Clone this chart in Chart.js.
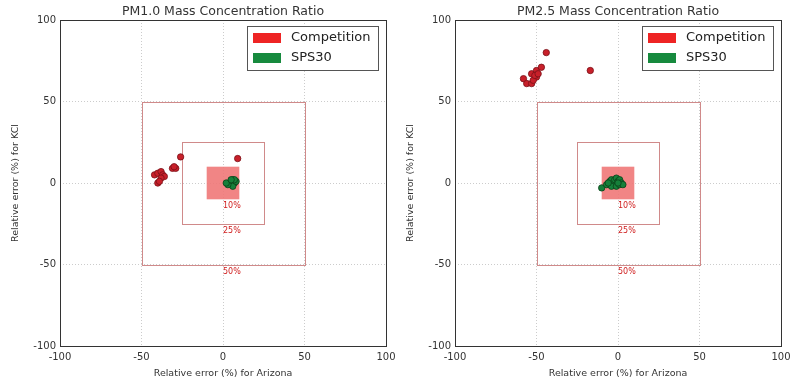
<!DOCTYPE html>
<html>
<head>
<meta charset="utf-8">
<script src="https://cdn.jsdelivr.net/npm/chart.js@4.4.0/dist/chart.umd.min.js"></script>
<style>
  body { margin: 0; background: #fff; }
  .wrap { position: absolute; top: 0; width: 395px; height: 384px; }
</style>
</head>
<body>
<div class="wrap" style="left:0"><canvas id="pm1"></canvas></div>
<div class="wrap" style="left:395px"><canvas id="pm25"></canvas></div>
<script>
// axis ticks and tolerance boxes (%)
var tickValues = [-100, -50, 0, 50, 100];
var boxLimits = [10, 25, 50];
var seriesNames = ["Competition", "SPS30"];

// PM1.0: relative error for Arizona (x) and KCl (y)
var pm1CompX = [-42, -40, -38, -37, -36, -38, -40, -39, -31, -29, -30, -26, 9];
var pm1CompY = [5, 6, 7, 5, 4, 3, 0, 1, 9, 9, 10, 16, 15];
var pm1SpsX = [4, 5, 6, 7, 5, 6, 8, 3, 7, 2, 5];
var pm1SpsY = [0, 1, 2, 0, -1, -2, 1, -1, 2, 0, 2];

// PM2.5
var pm25CompX = [-44, -17, -58, -56, -53, -53, -50, -50, -47, -52, -51, -49];
var pm25CompY = [80, 69, 64, 61, 61, 67, 69, 65, 71, 63, 66, 67];
var pm25SpsX = [-10, -7, -5, -4, -3, -2, -1, 0, 1, 2, -4, -1, 1, 3, -6, 0];
var pm25SpsY = [-3, -1, 1, 2, -1, 2, 3, 1, 2, 0, -2, -2, -1, -1, 0, 0];

function toPoints(xs, ys) {
  return xs.map(function (x, i) { return { x: x, y: ys[i] }; });
}

var boxPlugin = {
  id: 'boxes',
  beforeDatasetsDraw: function (chart) {
    var ctx = chart.ctx, sx = chart.scales.x, sy = chart.scales.y;
    ctx.save();
    boxLimits.forEach(function (b, i) {
      var l = sx.getPixelForValue(-b), r = sx.getPixelForValue(b);
      var t = sy.getPixelForValue(b), btm = sy.getPixelForValue(-b);
      if (i === 0) {
        ctx.fillStyle = 'rgba(240,120,120,0.9)';
        ctx.fillRect(l, t, r - l, btm - t);
      } else {
        ctx.strokeStyle = '#d08a8a';
        ctx.lineWidth = 1;
        ctx.strokeRect(Math.round(l) + 0.5, Math.round(t) + 0.5, Math.round(r - l), Math.round(btm - t));
      }
      ctx.fillStyle = '#d02020';
      ctx.font = '8px "DejaVu Sans"';
      ctx.textAlign = 'left';
      ctx.textBaseline = 'top';
      ctx.fillText(b + '%', sx.getPixelForValue(0), btm + 3);
    });
    ctx.restore();
  },
  afterDraw: function (chart) {
    var ctx = chart.ctx, a = chart.chartArea;
    ctx.save();
    ctx.strokeStyle = '#333';
    ctx.lineWidth = 1;
    ctx.strokeRect(Math.round(a.left) + 0.5, Math.round(a.top) + 0.5, Math.round(a.right - a.left), Math.round(a.bottom - a.top));
    // legend
    var lx = a.right - 139, ly = a.top + 6, lw = 131, lh = 44;
    ctx.fillStyle = '#fff';
    ctx.fillRect(lx, ly, lw, lh);
    ctx.strokeStyle = '#555';
    ctx.strokeRect(lx + 0.5, ly + 0.5, lw, lh);
    var swatch = ['#ee2424', '#178a3e'];
    ctx.font = '13px "DejaVu Sans"';
    ctx.textBaseline = 'middle';
    ctx.textAlign = 'left';
    chart.data.datasets.forEach(function (ds, i) {
      var yy = ly + 12 + i * 20;
      ctx.fillStyle = swatch[i];
      ctx.fillRect(lx + 6, yy - 5, 28, 10);
      ctx.fillStyle = '#222';
      ctx.fillText(ds.label, lx + 44, yy);
    });
    ctx.restore();
  }
};

function makeChart(id, title, compX, compY, spsX, spsY) {
  var axisFont = { family: 'DejaVu Sans', size: 10 };
  new Chart(document.getElementById(id), {
    type: 'scatter',
    data: {
      datasets: [
        {
          label: seriesNames[0],
          data: toPoints(compX, compY),
          backgroundColor: '#c8202a',
          borderColor: '#7a1018',
          borderWidth: 0.8,
          pointRadius: 3.2
        },
        {
          label: seriesNames[1],
          data: toPoints(spsX, spsY),
          backgroundColor: '#15803a',
          borderColor: '#0a4018',
          borderWidth: 0.8,
          pointRadius: 3.2
        }
      ]
    },
    options: {
      responsive: false,
      animation: false,
      layout: { padding: { left: 0, right: 9, top: 0, bottom: 0 } },
      plugins: {
        legend: { display: false },
        tooltip: { enabled: false },
        title: {
          display: true,
          fullSize: false,
          text: title,
          color: '#333',
          font: { family: 'DejaVu Sans', size: 12.5, weight: 'normal' },
          padding: { top: 4, bottom: 1 }
        }
      },
      scales: {
        x: {
          type: 'linear',
          min: -100, max: 100,
          afterBuildTicks: function (s) { s.ticks = tickValues.map(function (v) { return { value: v }; }); },
          afterFit: function (s) { s.height = 38; s.paddingLeft = 0; s.paddingRight = 0; },
          ticks: { color: '#333', font: axisFont, padding: 5, maxRotation: 0 },
          grid: { color: '#cccccc', lineWidth: 1, drawTicks: false },
          border: { display: false, dash: [1, 2] },
          title: { display: true, text: 'Relative error (%) for Arizona', color: '#333', font: { family: 'DejaVu Sans', size: 9.5 }, padding: { top: 0, bottom: 5 } }
        },
        y: {
          type: 'linear',
          min: -100, max: 100,
          afterBuildTicks: function (s) { s.ticks = tickValues.map(function (v) { return { value: v }; }); },
          afterFit: function (s) { s.width = 60; s.paddingTop = 0; s.paddingBottom = 0; },
          ticks: { color: '#333', font: axisFont, padding: 4 },
          grid: { color: '#cccccc', lineWidth: 1, drawTicks: false },
          border: { display: false, dash: [1, 2] },
          title: { display: true, text: 'Relative error (%) for KCl', color: '#333', font: { family: 'DejaVu Sans', size: 9.5 }, padding: { top: 10, bottom: 0 } }
        }
      }
    },
    plugins: [boxPlugin]
  });
}

document.getElementById('pm1').width = 395;
document.getElementById('pm1').height = 384;
document.getElementById('pm25').width = 395;
document.getElementById('pm25').height = 384;
makeChart('pm1', 'PM1.0 Mass Concentration Ratio', pm1CompX, pm1CompY, pm1SpsX, pm1SpsY);
makeChart('pm25', 'PM2.5 Mass Concentration Ratio', pm25CompX, pm25CompY, pm25SpsX, pm25SpsY);
</script>
</body>
</html>
